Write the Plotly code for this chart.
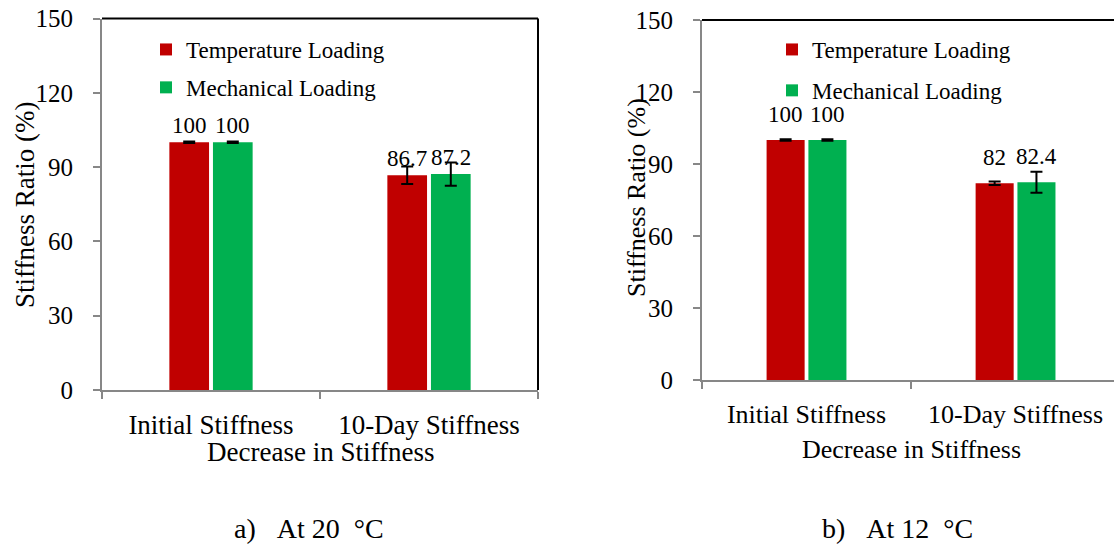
import plotly.graph_objects as go

# ---- data -------------------------------------------------------------
categories = ["Initial Stiffness", "10-Day Stiffness"]
series_names = ["Temperature Loading", "Mechanical Loading"]

temp_20 = [100, 86.7]
mech_20 = [100, 87.2]
temp_20_err = [0.3, 3.5]
mech_20_err = [0.3, 4.7]

temp_12 = [100, 82]
mech_12 = [100, 82.4]
temp_12_err = [0.3, 0.7]
mech_12_err = [0.3, 4.4]

y_ticks = [0, 30, 60, 90, 120, 150]
NB = "\u00a0"
captions = [f"a){NB * 3}At 20{NB * 2}°C", f"b){NB * 3}At 12{NB * 2}°C"]
x_title = "Decrease in Stiffness"
y_title = "Stiffness Ratio (%)"

# ---- styling ----------------------------------------------------------
W, H = 1114, 544
RED, GREEN = "#C00000", "#00B050"
AXIS_GREY = "#878787"
FONT = "Liberation Serif"
BARGAP, GROUPGAP = 0.6, 0.09


def px_x(p):
    return p / W


def px_y(p):
    return 1 - p / H


fig = go.Figure()

panels = [
    dict(xa="x", ya="y", legend="legend", vals=(temp_20, mech_20),
         errs=(temp_20_err, mech_20_err)),
    dict(xa="x2", ya="y2", legend="legend2", vals=(temp_12, mech_12),
         errs=(temp_12_err, mech_12_err)),
]

for panel in panels:
    for name, color, vals, errs in zip(series_names, (RED, GREEN),
                                       panel["vals"], panel["errs"]):
        fig.add_trace(go.Bar(
            x=categories, y=vals, name=name,
            marker=dict(color=color, line=dict(width=0)),
            error_y=dict(type="data", array=errs, visible=True,
                         color="black", thickness=2, width=6),
            xaxis=panel["xa"], yaxis=panel["ya"],
            legend=panel["legend"], legendgroup=panel["legend"] + name,
        ))

# value labels above each bar
offset = (1 - BARGAP) / 4
label_sets = [
    ("x", "y", (temp_20, mech_20), 23, 17),
    ("x2", "y2", (temp_12, mech_12), 23, 26),
]
for xa, ya, series, fsize, shift in label_sets:
    for k, vals in enumerate(series):
        for i, v in enumerate(vals):
            fig.add_annotation(
                x=i + (-offset if k == 0 else offset), y=v,
                xref=xa, yref=ya, text=f"{v:g}", showarrow=False,
                yshift=shift, xanchor="center", yanchor="middle",
                borderpad=0,
                font=dict(family=FONT, size=fsize, color="black"),
            )

common_y = dict(range=[0, 150], tickvals=y_ticks, showgrid=False,
                zeroline=False, showline=True, linecolor=AXIS_GREY,
                linewidth=2, ticks="outside", ticklen=7, tickwidth=2,
                tickcolor=AXIS_GREY, ticklabelstandoff=15, automargin=False,
                tickfont=dict(family=FONT, size=25, color="black"))
common_x = dict(type="category", showgrid=False, zeroline=False,
                showline=True, linecolor=AXIS_GREY, linewidth=2,
                ticks="outside", tickson="boundaries", ticklen=7,
                tickwidth=2, tickcolor=AXIS_GREY, ticklabelstandoff=10,
                automargin=False)

fig.update_layout(
    width=W, height=H,
    margin=dict(l=0, r=0, t=0, b=0, autoexpand=False),
    paper_bgcolor="white", plot_bgcolor="white",
    font=dict(family=FONT, color="black"),
    barmode="group", bargap=BARGAP, bargroupgap=GROUPGAP,
    xaxis=dict(domain=[px_x(102), px_x(538)], range=[-0.5, 1.5],
               anchor="y", tickfont=dict(family=FONT, size=27, color="black"),
               **common_x),
    yaxis=dict(domain=[px_y(390), px_y(18.5)], anchor="x", **common_y),
    xaxis2=dict(domain=[px_x(702), 1.0], range=[-0.5, 1.471],
                anchor="y2", tickfont=dict(family=FONT, size=26, color="black"),
                **common_x),
    yaxis2=dict(domain=[px_y(380), px_y(20)], anchor="x2", **common_y),
    legend=dict(x=px_x(146), y=px_y(28), xanchor="left", yanchor="top",
                bgcolor="rgba(0,0,0,0)", tracegroupgap=5,
                font=dict(family=FONT, size=23, color="black")),
    legend2=dict(x=px_x(772), y=px_y(28), xanchor="left", yanchor="top",
                 bgcolor="rgba(0,0,0,0)", tracegroupgap=8,
                 font=dict(family=FONT, size=23, color="black")),
    showlegend=True,
)

# black frame on the top (and right edge of the first panel)
for xa, ya, right in (("x", "y", True), ("x2", "y2", False)):
    fig.add_shape(type="line", xref=f"{xa} domain", yref=f"{ya} domain",
                  x0=0, x1=1, y0=1, y1=1, line=dict(color="black", width=2))
    if right:
        fig.add_shape(type="line", xref=f"{xa} domain", yref=f"{ya} domain",
                      x0=1, x1=1, y0=0, y1=1, line=dict(color="black", width=2))


def paper_text(cx, cy, text, size, angle=0):
    fig.add_annotation(x=px_x(cx), y=px_y(cy), xref="paper", yref="paper",
                       xanchor="center", yanchor="middle", text=text,
                       textangle=angle, showarrow=False,
                       font=dict(family=FONT, size=size, color="black"))


# axis titles
paper_text(25, 205, y_title, 27, -90)
paper_text(636, 198, y_title, 26, -90)
paper_text(320, 452, x_title, 27)
paper_text(911, 449, x_title, 26)

# panel captions
for cx, text in zip((309, 897), captions):
    paper_text(cx, 528, text, 28)

fig.write_html("out.html")
